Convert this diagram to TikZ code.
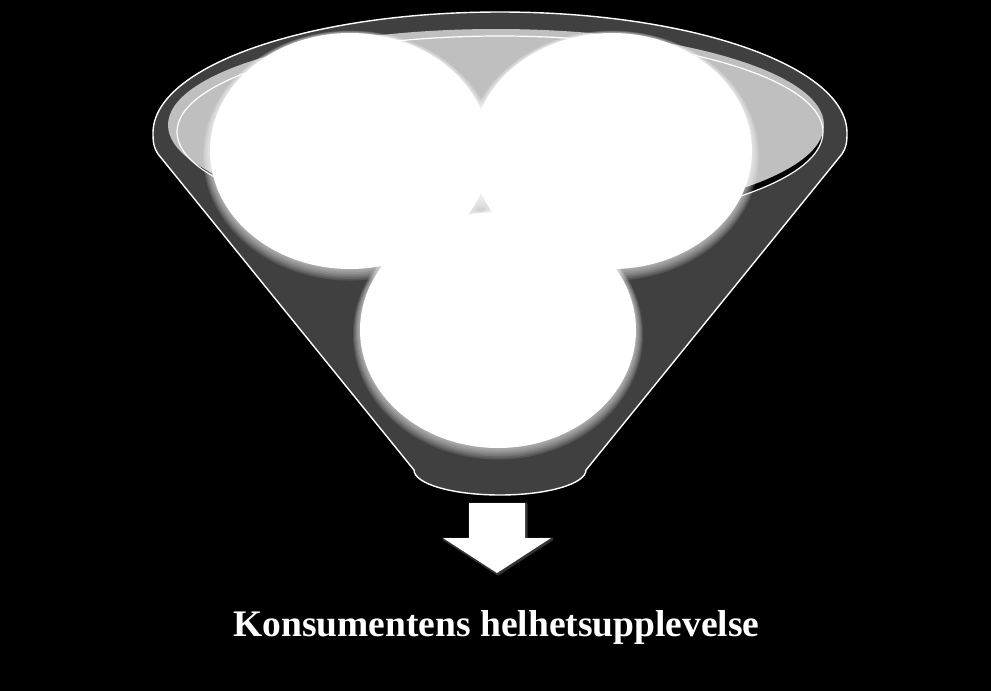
\documentclass[tikz,border=0pt]{standalone}
\usepackage{fontspec}
\setmainfont{Liberation Serif}
\usepackage{tikz}
\usetikzlibrary{positioning}
\definecolor{funneldark}{RGB}{64,64,64}
\definecolor{funnellight}{RGB}{191,191,191}
\tikzstyle{funnel}=[fill=funneldark,draw=white,line width=1.4pt,line join=round]
\tikzstyle{rim}=[draw=white,line width=1.2pt]
\tikzstyle{bubble}=[fill=white]
\tikzstyle{glow}=[fill=white,opacity=0.11]
\tikzstyle{caption}=[anchor=base,text=white,font=\bfseries\fontsize{37.5}{40}\selectfont]

\begin{document}
\begin{tikzpicture}[x=1pt,y=-1pt]

	\fill[black] (0,0) rectangle (991,691);
	\useasboundingbox (0,0) rectangle (991,691);

	% funnel body
	\draw[funnel] (153,133) arc[start angle=180,end angle=360,x radius=347,y radius=121]
		.. controls (847,143) and (846,148) .. (842,154)
		-- (586,470) arc[start angle=0,end angle=180,x radius=86,y radius=25]
		-- (158,154) .. controls (154,148) and (153,143) .. (153,133) -- cycle;

	% opening of the funnel
	\fill[black] (500,132) ellipse[x radius=323,y radius=96];
	\fill[funnellight] (496,125) ellipse[x radius=328,y radius=96];
	\draw[rim] (500,132) ellipse[x radius=323,y radius=96];

	% three bubbles
	\foreach \cx/\cy/\rx in {350/151/140,612/151/140,498/330/138}{
		\foreach \g in {7,6,...,1}{
			\pgfmathsetmacro{\gx}{\rx+\g}
			\pgfmathsetmacro{\gy}{118+\g}
			\pgfmathsetmacro{\gc}{\cy+0.65*\g}
			\fill[glow] (\cx,\gc) ellipse[x radius=\gx,y radius=\gy];
		}
	}
	\foreach \cx/\cy/\rx in {350/151/140,612/151/140,498/330/138}
		\fill[bubble] (\cx,\cy) ellipse[x radius=\rx,y radius=118];

	% arrow
	\draw[white,opacity=0.2,line width=3pt,line join=round] (470,504) -- (526,504) -- (526,539) -- (552,539) -- (498,574) -- (444,539) -- (470,539) -- cycle;
	\fill[white] (469,503) -- (525,503) -- (525,538) -- (551,538) -- (497,573) -- (443,538) -- (469,538) -- cycle;

	\node (result) [caption] at (496.5,636) {Konsumentens helhetsupplevelse};

\end{tikzpicture}
\end{document}
